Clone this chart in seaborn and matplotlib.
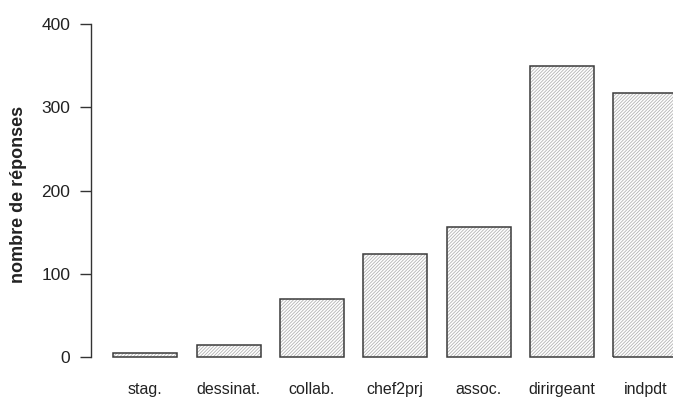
import matplotlib
matplotlib.use("Agg")
import matplotlib.pyplot as plt
import seaborn as sns
import pandas as pd

categories = ["stag.", "dessinat.", "collab.", "chef2prj", "assoc.", "dirirgeant", "indpdt"]
responses = [5, 15, 70, 124, 156, 350, 317]
y_ticks = [0, 100, 200, 300, 400]

df = pd.DataFrame({"cat": categories, "n": responses})

sns.set_style("white")
plt.rcParams["font.family"] = ["Liberation Sans", "DejaVu Sans"]
plt.rcParams["hatch.linewidth"] = 0.6

W, H = 673, 397
fig = plt.figure(figsize=(W / 100, H / 100), dpi=100)
# axes: left edge at px 91, right at 673; y: -10..420 maps px 365.6..7.3
ax = fig.add_axes([91 / W, (H - 365.6) / H, (673 - 91) / W, 358.3 / H])

text_col = "#222222"

# hatched fill
sns.barplot(data=df, x="cat", y="n", ax=ax, color="white", saturation=1,
            width=0.77, edgecolor="#b4b4b4", linewidth=0, hatch="//////////")
# outlines
sns.barplot(data=df, x="cat", y="n", ax=ax, fill=False, saturation=1,
            width=0.77, edgecolor="#3a3a3a", linewidth=1.1, color="#3a3a3a")

ax.set_xlim((91 - 145.3) / 83.33, (673 - 145.3) / 83.33)
ax.set_ylim(-10, 420)
ax.set_yticks(y_ticks)
ax.set_yticklabels([str(v) for v in y_ticks])
ax.set_xlabel("")
ax.set_ylabel("")

for s in ["top", "right", "bottom"]:
    ax.spines[s].set_visible(False)
ax.spines["left"].set_bounds(0, 400)
ax.spines["left"].set_color("#333333")
ax.spines["left"].set_linewidth(1.0)

ax.tick_params(axis="y", length=8, width=1.0, color="#333333", pad=7,
               labelsize=12.5, labelcolor=text_col, left=True)
ax.tick_params(axis="x", length=0, pad=11.5, labelsize=11.5, labelcolor=text_col)

fig.text(19 / W, 1 - 194 / H, "nombre de réponses", rotation=90,
         ha="center", va="center", fontsize=13, fontweight="bold", color=text_col)

fig.savefig("out.png", dpi=100)
